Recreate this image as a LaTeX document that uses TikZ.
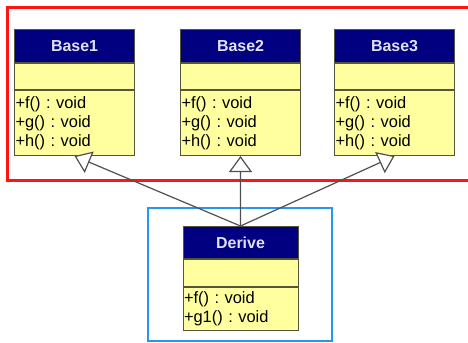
\documentclass[tikz,border=0pt]{standalone}
\usepackage{fontspec}
\setmainfont{Liberation Sans}
\frenchspacing
\usetikzlibrary{arrows.meta,positioning}
\definecolor{hdrblue}{RGB}{0,0,128}
\definecolor{bodyyel}{RGB}{255,255,160}
\definecolor{boxline}{RGB}{85,85,60}
\definecolor{titlecol}{RGB}{225,225,245}
\definecolor{framered}{RGB}{255,20,20}
\definecolor{frameblue}{RGB}{40,150,240}
\definecolor{linkgray}{RGB}{80,80,80}
\tikzset{
  hdr/.style={draw=boxline, line width=1bp, fill=hdrblue, text=titlecol,
    font=\fontsize{16}{16}\selectfont\bfseries, inner sep=0pt, anchor=north west},
  attrbox/.style={draw=boxline, line width=1bp, fill=bodyyel, inner sep=0pt, anchor=north west},
  methbox/.style={draw=boxline, line width=1bp, fill=bodyyel, anchor=north west,
    font=\fontsize{16.5}{19}\selectfont\frenchspacing, align=left, inner xsep=1bp, inner ysep=0pt},
  inherit/.style={draw=linkgray, line width=1.2bp,
    -{Triangle[open, length=16bp, width=23bp, fill=white, line width=1.2bp]}},
  frame/.style={line width=3bp},
}
\begin{document}
\begin{tikzpicture}[x=1bp,y=-1bp]
\clip (0,0) rectangle (468,342);
\fill[white] (0,0) rectangle (468,342);
% frames
\draw[frame, draw=framered] (7,7) rectangle (475,180);
\draw[frame, draw=frameblue, line width=2.5bp] (148,208) rectangle (332,341);
% Base1
\node[hdr, minimum width=120bp, minimum height=33bp] (b1h) at (14,29) {Base1};
\node[attrbox, minimum width=120bp, minimum height=26bp] (b1a) at (b1h.south west) {};
\node[methbox, minimum width=120bp, minimum height=65bp, text width=118bp] (b1m) at (b1a.south west)
  {+f() : void\\+g() : void\\+h() : void};
% Base2
\node[hdr, minimum width=120bp, minimum height=33bp] (b2h) at (180,29) {Base2};
\node[attrbox, minimum width=120bp, minimum height=26bp] (b2a) at (b2h.south west) {};
\node[methbox, minimum width=120bp, minimum height=65bp, text width=118bp] (b2m) at (b2a.south west)
  {+f() : void\\+g() : void\\+h() : void};
% Base3
\node[hdr, minimum width=120bp, minimum height=33bp] (b3h) at (334,29) {Base3};
\node[attrbox, minimum width=120bp, minimum height=26bp] (b3a) at (b3h.south west) {};
\node[methbox, minimum width=120bp, minimum height=65bp, text width=118bp] (b3m) at (b3a.south west)
  {+f() : void\\+g() : void\\+h() : void};
% Derive
\node[hdr, minimum width=115bp, minimum height=32bp] (dh) at (182.5,226) {Derive};
\node[attrbox, minimum width=115bp, minimum height=27bp] (da) at (dh.south west) {};
\node[methbox, minimum width=115bp, minimum height=43bp, text width=113bp] (dm) at (da.south west)
  {+f() : void\\+g1() : void};
% inheritance
\draw[inherit] (dh.north) -- (b1m.south);
\draw[inherit] (dh.north) -- (b2m.south);
\draw[inherit] (dh.north) -- (b3m.south);
\end{tikzpicture}
\end{document}
